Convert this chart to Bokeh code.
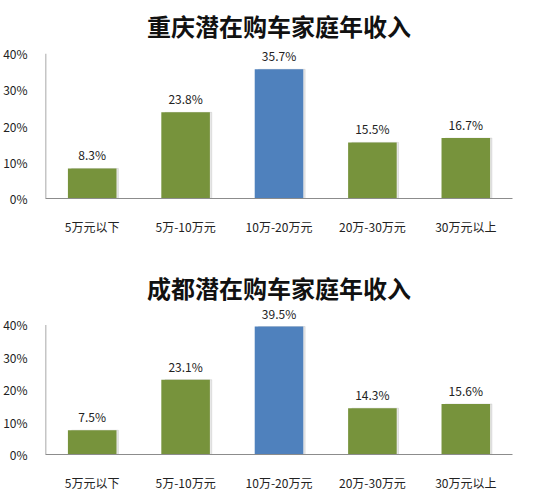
from bokeh.plotting import figure
from bokeh.layouts import column
from bokeh.core.properties import value
from bokeh.models import ColumnDataSource, LabelSet, FixedTicker, NumeralTickFormatter, Range1d
from bokeh.transform import dodge
from bokeh.embed import file_html
from bokeh.resources import INLINE

categories = ["5万元以下", "5万-10万元", "10万-20万元", "20万-30万元", "30万元以上"]
chongqing = [0.083, 0.238, 0.357, 0.155, 0.167]
chengdu = [0.075, 0.231, 0.395, 0.143, 0.156]
titles = ["重庆潜在购车家庭年收入", "成都潜在购车家庭年收入"]
y_ticks = [0, 0.1, 0.2, 0.3, 0.4]

GREEN = "#77933C"
BLUE = "#4F81BD"
AXIS = "#8c8c8c"
FONT = "Noto Sans CJK SC"


def make_chart(values, title, height, y_end, border_top, border_bottom, standoff):
    colors = [BLUE if v == max(values) else GREEN for v in values]
    source = ColumnDataSource(dict(
        cats=categories,
        vals=values,
        colors=colors,
        labels=["%.1f%%" % (v * 100) for v in values],
    ))
    # y range runs a bit past 40% so the value labels are not clipped
    p = figure(
        x_range=categories,
        y_range=Range1d(0, y_end),
        width=517,
        height=height,
        title=title,
        toolbar_location=None,
        output_backend="svg",
        min_border_left=38,
        min_border_right=5,
        min_border_top=border_top,
        min_border_bottom=border_bottom,
    )
    p.title.align = "center"
    p.title.text_font = FONT
    p.title.text_font_size = "24px"
    p.title.text_font_style = "bold"
    p.title.text_color = "#111111"
    p.title.standoff = standoff

    # soft drop shadow to the right of each bar
    p.vbar(x=dodge("cats", 0.03, range=p.x_range), top="vals", width=0.5,
           source=source, color="#b0b0b0", alpha=0.3)
    p.vbar(x="cats", top="vals", width=0.52, source=source,
           fill_color="colors", line_color=None)

    p.add_layout(LabelSet(x="cats", y="vals", text="labels", source=source,
                          y_offset=5, text_align="center", text_font=value(FONT),
                          text_font_size="12px", text_color="#222222"))

    # y axis line only up to the top tick
    p.segment(x0=[0], y0=[y_ticks[0]], x1=[0], y1=[y_ticks[-1]],
              line_color=AXIS, line_width=1.5)

    p.outline_line_color = None
    p.grid.grid_line_color = None

    p.yaxis.ticker = FixedTicker(ticks=y_ticks)
    p.yaxis.formatter = NumeralTickFormatter(format="0%")
    p.yaxis.axis_line_color = None
    p.xaxis.axis_line_color = AXIS
    for ax in (p.xaxis, p.yaxis):
        ax.major_tick_line_color = None
        ax.minor_tick_line_color = None
        ax.major_label_text_font = FONT
        ax.major_label_text_font_size = "12px"
        ax.major_label_text_color = "#222222"
    p.xaxis.major_label_standoff = 13
    p.yaxis.major_label_standoff = 12
    return p


top = make_chart(chongqing, titles[0], 237, 0.42, 46, 39, 8)
bottom = make_chart(chengdu, titles[1], 256, 0.46, 68, 38, 2)

p = column(top, bottom, spacing=0)
open("out.html", "w").write(file_html(p, INLINE))
